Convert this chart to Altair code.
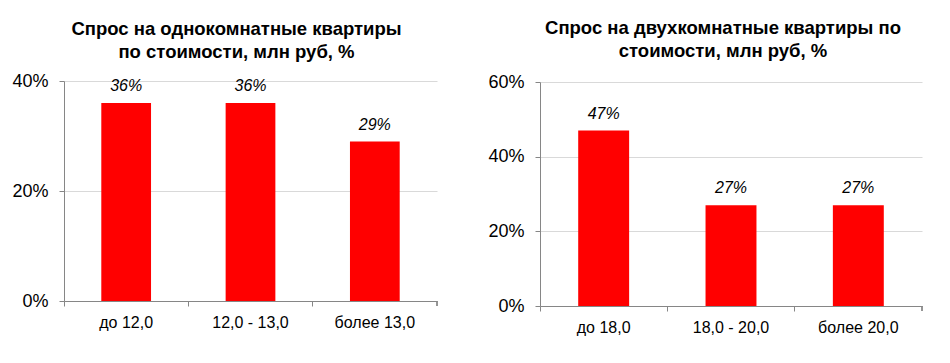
import altair as alt
import pandas as pd

cats1 = ["до 12,0", "12,0 - 13,0", "более 13,0"]
vals1 = [0.36, 0.36, 0.29]
title1 = ["Спрос на однокомнатные квартиры", "по стоимости, млн  руб, %"]

cats2 = ["до 18,0", "18,0 - 20,0", "более 20,0"]
vals2 = [0.47, 0.27, 0.27]
title2 = ["Спрос на двухкомнатные квартиры по", "стоимости, млн  руб, %"]

FONT = "Liberation Sans"
RED = "#ff0000"
AXIS_C = "#868686"
GRID_C = "#d9d9d9"


def panel(cats, vals, title, ymax, yticks, w, h, top, dx, offset):
    df = pd.DataFrame({"cat": cats, "val": vals})
    x = alt.X("cat:N", sort=cats, title=None,
              scale=alt.Scale(paddingInner=0, paddingOuter=0),
              axis=alt.Axis(labelAngle=0, labelFont=FONT, labelFontSize=16,
                            labelColor="#000", domainColor=AXIS_C, tickColor=AXIS_C,
                            tickSize=5, bandPosition=0, labelPadding=8, grid=False))
    y = alt.Y("val:Q", title=None,
              scale=alt.Scale(domain=[0, ymax], nice=False, range=[h, top]),
              axis=alt.Axis(values=yticks, format=".0%", labelFont=FONT, labelFontSize=18,
                            labelColor="#000", domainColor=AXIS_C, tickColor=AXIS_C,
                            tickSize=5, labelPadding=11, gridColor=GRID_C))
    base = alt.Chart(df)
    bars = base.mark_bar(color=RED, width=alt.RelativeBandSize(0.4)).encode(x=x, y=y)
    labels = base.mark_text(font=FONT, fontSize=16, fontStyle="italic", color="#000",
                            baseline="middle", dy=-17).encode(
        x=alt.X("cat:N", sort=cats), y="val:Q", text=alt.Text("val:Q", format=".0%"))
    endtick = alt.Chart(df).mark_rule(color=AXIS_C).encode(
        x=alt.value(w), y=alt.value(h), y2=alt.value(h + 5))
    return alt.layer(bars, labels, endtick).properties(
        width=w, height=h,
        title=alt.TitleParams(title, font=FONT, fontSize=18.5, fontWeight="bold",
                              color="#000", anchor="middle", lineHeight=23,
                              offset=offset, dx=dx))


left = panel(cats1, vals1, title1, 0.4, [0, 0.2, 0.4], 373, 220, 0, -14, 11)
right = panel(cats2, vals2, title2, 0.6, [0, 0.2, 0.4, 0.6], 382, 225, 1, -8, 13)

chart = alt.hconcat(left, right, spacing=103, bounds="flush").configure_view(
    stroke=None).properties(
    padding={"left": 3, "top": 10, "right": 5, "bottom": 5})

chart.save("out.html", embed_options={"renderer": "svg", "actions": False})
